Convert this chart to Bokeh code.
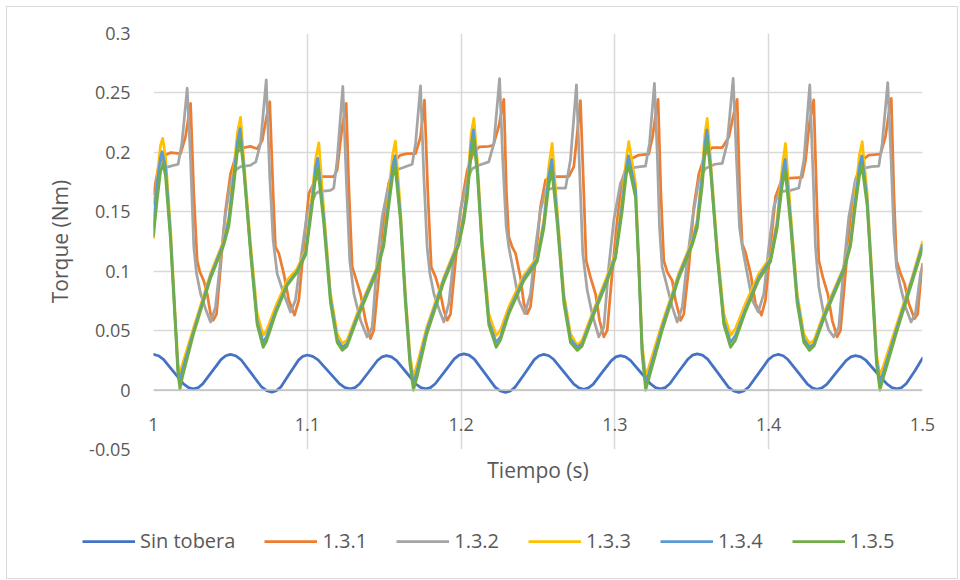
from bokeh.plotting import figure
from bokeh.layouts import column
from bokeh.models import (Range1d, FixedTicker, CustomJSTickFormatter, Legend, LegendItem, Span)
from bokeh.embed import file_html
from bokeh.resources import INLINE

# ---------------- data ----------------
x_ticks = [1.0, 1.1, 1.2, 1.3, 1.4, 1.5]
y_ticks = [-0.05, 0.0, 0.05, 0.1, 0.15, 0.2, 0.25, 0.3]

series_names = ["Sin tobera", "1.3.1", "1.3.2", "1.3.3", "1.3.4", "1.3.5"]
series_colors = ["#4472C4", "#ED7D31", "#A5A5A5", "#FFC000", "#5B9BD5", "#70AD47"]

sin_tobera = [
    (1.0000, 0.0300), (1.0032, 0.0289), (1.0065, 0.0258), (1.0130, 0.0155), (1.0195, 0.0052),
    (1.0228, 0.0021), (1.0260, 0.0010), (1.0292, 0.0021),
    (1.0320, 0.0052), (1.0380, 0.0155), (1.0440, 0.0258), (1.0470, 0.0289), (1.0500, 0.0300),
    (1.0533, 0.0289),
    (1.0568, 0.0257), (1.0635, 0.0142), (1.0703, 0.0026), (1.0736, -0.0005), (1.0770, -0.0017),
    (1.0799, -0.0005),
    (1.0828, 0.0026), (1.0885, 0.0140), (1.0943, 0.0252), (1.0971, 0.0284), (1.1000, 0.0295),
    (1.1035, 0.0284),
    (1.1070, 0.0254), (1.1140, 0.0153), (1.1210, 0.0052), (1.1245, 0.0021), (1.1280, 0.0010),
    (1.1310, 0.0021),
    (1.1339, 0.0051), (1.1398, 0.0150), (1.1456, 0.0249), (1.1486, 0.0279), (1.1515, 0.0290),
    (1.1547, 0.0279),
    (1.1579, 0.0249), (1.1643, 0.0150), (1.1706, 0.0051), (1.1738, 0.0021), (1.1770, 0.0010),
    (1.1801, 0.0021),
    (1.1832, 0.0053), (1.1894, 0.0158), (1.1956, 0.0262), (1.1987, 0.0294), (1.2018, 0.0305),
    (1.2052, 0.0294),
    (1.2086, 0.0260), (1.2154, 0.0143), (1.2221, 0.0025), (1.2255, -0.0008), (1.2289, -0.0020),
    (1.2320, -0.0008),
    (1.2351, 0.0025), (1.2414, 0.0140), (1.2476, 0.0256), (1.2507, 0.0289), (1.2538, 0.0300),
    (1.2571, 0.0289),
    (1.2603, 0.0257), (1.2668, 0.0154), (1.2733, 0.0050), (1.2766, 0.0018), (1.2798, 0.0007),
    (1.2828, 0.0018),
    (1.2858, 0.0048), (1.2917, 0.0149), (1.2977, 0.0248), (1.3006, 0.0279), (1.3036, 0.0290),
    (1.3069, 0.0279),
    (1.3101, 0.0249), (1.3167, 0.0150), (1.3232, 0.0052), (1.3264, 0.0021), (1.3297, 0.0010),
    (1.3327, 0.0021),
    (1.3357, 0.0053), (1.3416, 0.0158), (1.3476, 0.0262), (1.3505, 0.0294), (1.3535, 0.0305),
    (1.3569, 0.0294),
    (1.3603, 0.0260), (1.3671, 0.0143), (1.3738, 0.0025), (1.3772, -0.0008), (1.3806, -0.0020),
    (1.3838, -0.0008),
    (1.3870, 0.0026), (1.3934, 0.0140), (1.3998, 0.0256), (1.4030, 0.0289), (1.4062, 0.0300),
    (1.4094, 0.0289),
    (1.4125, 0.0257), (1.4189, 0.0154), (1.4252, 0.0050), (1.4283, 0.0018), (1.4315, 0.0007),
    (1.4346, 0.0018),
    (1.4378, 0.0048), (1.4440, 0.0149), (1.4503, 0.0248), (1.4534, 0.0279), (1.4565, 0.0290),
    (1.4599, 0.0279),
    (1.4633, 0.0249), (1.4700, 0.0150), (1.4768, 0.0052), (1.4801, 0.0021), (1.4835, 0.0010),
    (1.4865, 0.0021),
    (1.4895, 0.0055), (1.4950, 0.0160), (1.5000, 0.0268),
]

s131 = [
    (1.0000, 0.165), (1.0035, 0.190), (1.0078, 0.1977), (1.0110, 0.1997), (1.0176, 0.199),
    (1.0208, 0.213), (1.0241, 0.2412),
    (1.0262, 0.1654), (1.0284, 0.109), (1.0301, 0.0994), (1.0327, 0.092), (1.0349, 0.081),
    (1.0371, 0.064), (1.0388, 0.0587), (1.0410, 0.064), (1.0436, 0.1036), (1.0468, 0.151),
    (1.0501, 0.182), (1.0544, 0.2005), (1.0587, 0.204), (1.0631, 0.205), (1.0674, 0.203),
    (1.0707, 0.210), (1.0735, 0.230), (1.0756, 0.2426),
    (1.0778, 0.1654), (1.0793, 0.1205), (1.0815, 0.115), (1.0847, 0.098), (1.0880, 0.0756),
    (1.0917, 0.063), (1.0945, 0.0756), (1.0977, 0.1205), (1.1010, 0.1654), (1.1053, 0.1767),
    (1.1075, 0.1795), (1.1172, 0.1795), (1.1194, 0.185), (1.1227, 0.2216), (1.1253, 0.2412),
    (1.1270, 0.171), (1.1292, 0.1036), (1.1313, 0.095), (1.1346, 0.081), (1.1378, 0.0587),
    (1.1411, 0.0433), (1.1432, 0.0503), (1.1465, 0.095), (1.1497, 0.143), (1.1530, 0.174),
    (1.1573, 0.1935), (1.1606, 0.1977), (1.1650, 0.199), (1.1704, 0.199), (1.1736, 0.213),
    (1.1762, 0.244),
    (1.1784, 0.165), (1.1806, 0.1036), (1.1834, 0.095), (1.1866, 0.081), (1.1888, 0.067),
    (1.1910, 0.0587), (1.1931, 0.064), (1.1964, 0.109), (1.1996, 0.151), (1.2040, 0.185),
    (1.2080, 0.200), (1.2120, 0.2047), (1.2180, 0.205), (1.2210, 0.206), (1.2245, 0.222),
    (1.2278, 0.2446),
    (1.2295, 0.1654), (1.2310, 0.129), (1.2332, 0.1205), (1.2354, 0.115), (1.2386, 0.095),
    (1.2408, 0.0728), (1.2430, 0.0643), (1.2451, 0.070), (1.2484, 0.109), (1.2516, 0.154),
    (1.2549, 0.1767), (1.2592, 0.1795), (1.2700, 0.1795), (1.2733, 0.188), (1.2755, 0.216),
    (1.2776, 0.2435),
    (1.2798, 0.1654), (1.2813, 0.109), (1.2841, 0.095), (1.2874, 0.081), (1.2900, 0.0587),
    (1.2928, 0.0447), (1.2950, 0.0503), (1.2982, 0.098), (1.3015, 0.143), (1.3047, 0.1767),
    (1.3090, 0.1935), (1.3156, 0.1977), (1.3220, 0.1985), (1.3245, 0.213), (1.3265, 0.232),
    (1.3281, 0.2446),
    (1.3299, 0.1654), (1.3318, 0.109), (1.3340, 0.0994), (1.3373, 0.092), (1.3394, 0.0756),
    (1.3427, 0.0587), (1.3448, 0.064), (1.3481, 0.1036), (1.3513, 0.154), (1.3546, 0.182),
    (1.3589, 0.199), (1.3633, 0.204), (1.3698, 0.204), (1.3741, 0.213), (1.3772, 0.232),
    (1.3795, 0.2446),
    (1.3812, 0.1654), (1.3828, 0.123), (1.3849, 0.116), (1.3882, 0.098), (1.3914, 0.0728),
    (1.3953, 0.063), (1.3979, 0.0756), (1.4012, 0.1205), (1.4044, 0.1626), (1.4088, 0.178),
    (1.4218, 0.179), (1.4240, 0.1935), (1.4265, 0.225), (1.4293, 0.2441),
    (1.4311, 0.1654), (1.4326, 0.109), (1.4352, 0.095), (1.4384, 0.081), (1.4413, 0.0587),
    (1.4445, 0.0447), (1.4467, 0.0503), (1.4499, 0.098), (1.4532, 0.1457), (1.4564, 0.1767),
    (1.4608, 0.1935), (1.4651, 0.1977), (1.4727, 0.1985), (1.4759, 0.213), (1.4780, 0.232),
    (1.4797, 0.2454),
    (1.4814, 0.1654), (1.4831, 0.109), (1.4857, 0.098), (1.4883, 0.0896), (1.4911, 0.0728),
    (1.4948, 0.060), (1.4969, 0.064), (1.4990, 0.095), (1.5000, 0.106),
]

s132 = [
    (1.0000, 0.157), (1.0030, 0.178), (1.0050, 0.186), (1.0100, 0.188), (1.0160, 0.190),
    (1.0185, 0.208), (1.0219, 0.254),
    (1.0241, 0.1935), (1.0262, 0.1205), (1.0280, 0.098), (1.0306, 0.081), (1.0338, 0.0685),
    (1.0371, 0.0573), (1.0403, 0.070), (1.0436, 0.109), (1.0468, 0.1486), (1.0501, 0.174),
    (1.0533, 0.185), (1.0566, 0.188), (1.0630, 0.189), (1.0665, 0.192), (1.0696, 0.2075),
    (1.0733, 0.261),
    (1.0756, 0.179), (1.0778, 0.126), (1.0804, 0.098), (1.0847, 0.081), (1.0891, 0.0657),
    (1.0923, 0.0756), (1.0956, 0.109), (1.0999, 0.1486), (1.1030, 0.158), (1.1053, 0.165),
    (1.1075, 0.167), (1.1150, 0.168), (1.1172, 0.170), (1.1194, 0.1935), (1.1231, 0.2555),
    (1.1253, 0.1795), (1.1276, 0.109), (1.1303, 0.081), (1.1346, 0.0587), (1.1389, 0.0447),
    (1.1422, 0.053), (1.1454, 0.109), (1.1487, 0.1457), (1.1530, 0.174), (1.1573, 0.185),
    (1.1620, 0.187), (1.1682, 0.190), (1.1704, 0.2075), (1.1736, 0.256),
    (1.1758, 0.1795), (1.1779, 0.1205), (1.1797, 0.098), (1.1823, 0.081), (1.1855, 0.0685),
    (1.1888, 0.0573), (1.1920, 0.0727), (1.1953, 0.112), (1.1996, 0.151), (1.2040, 0.1767),
    (1.2070, 0.186), (1.2110, 0.189), (1.2180, 0.192), (1.2213, 0.2075), (1.2250, 0.262),
    (1.2271, 0.1935), (1.2293, 0.1377), (1.2310, 0.1205), (1.2343, 0.098), (1.2375, 0.0756),
    (1.2414, 0.0643), (1.2451, 0.081), (1.2484, 0.1205), (1.2516, 0.151), (1.2549, 0.168),
    (1.2600, 0.170), (1.2679, 0.170), (1.2711, 0.1935), (1.2750, 0.2567),
    (1.2772, 0.1795), (1.2791, 0.115), (1.2820, 0.084), (1.2852, 0.0643), (1.2895, 0.0447),
    (1.2928, 0.053), (1.2960, 0.1036), (1.2993, 0.143), (1.3036, 0.174), (1.3090, 0.1865),
    (1.3165, 0.188), (1.3199, 0.1885), (1.3225, 0.2075), (1.3257, 0.258),
    (1.3277, 0.1935), (1.3290, 0.137), (1.3307, 0.1036), (1.3340, 0.0868), (1.3373, 0.070),
    (1.3405, 0.0573), (1.3438, 0.070), (1.3470, 0.109), (1.3503, 0.143), (1.3546, 0.1767),
    (1.3589, 0.1865), (1.3650, 0.190), (1.3698, 0.1907), (1.3730, 0.2075), (1.3769, 0.2623),
    (1.3791, 0.1935), (1.3810, 0.137), (1.3828, 0.1205), (1.3860, 0.098), (1.3893, 0.0756),
    (1.3932, 0.0657), (1.3968, 0.081), (1.4001, 0.1205), (1.4033, 0.154), (1.4066, 0.1668),
    (1.4142, 0.168), (1.4196, 0.170), (1.4229, 0.1935), (1.4267, 0.2567),
    (1.4289, 0.1795), (1.4304, 0.1205), (1.4326, 0.0868), (1.4358, 0.0643), (1.4391, 0.0503),
    (1.4423, 0.0447), (1.4456, 0.053), (1.4488, 0.1036), (1.4521, 0.1457), (1.4564, 0.1767),
    (1.4608, 0.1865), (1.4670, 0.188), (1.4716, 0.1885), (1.4738, 0.2075), (1.4774, 0.2587),
    (1.4796, 0.1935), (1.4814, 0.1317), (1.4831, 0.1036), (1.4857, 0.0868), (1.4889, 0.070),
    (1.4926, 0.0573), (1.4954, 0.0643), (1.4987, 0.098), (1.5000, 0.104),
]

s133 = [
    (1.0000, 0.128), (1.0024, 0.1795), (1.0046, 0.206), (1.0060, 0.2118),
    (1.0078, 0.196), (1.0110, 0.137), (1.0143, 0.0587), (1.0158, 0.025), (1.0169, 0.0124),
    (1.0186, 0.0208), (1.0262, 0.053), (1.0371, 0.098), (1.0457, 0.126), (1.0490, 0.1457),
    (1.0522, 0.185), (1.0545, 0.216), (1.0566, 0.2295),
    (1.0587, 0.1935), (1.0631, 0.123), (1.0674, 0.0643), (1.0713, 0.046), (1.0735, 0.0503),
    (1.0793, 0.070), (1.0869, 0.0924), (1.0934, 0.1022), (1.0990, 0.118), (1.1032, 0.1654),
    (1.1055, 0.195), (1.1075, 0.208),
    (1.1107, 0.151), (1.1151, 0.081), (1.1194, 0.0475), (1.1227, 0.039), (1.1259, 0.042),
    (1.1324, 0.0643), (1.1389, 0.084), (1.1454, 0.1036), (1.1497, 0.126), (1.1530, 0.1654),
    (1.1555, 0.198), (1.1573, 0.2095),
    (1.1606, 0.151), (1.1638, 0.081), (1.1667, 0.0306), (1.1688, 0.011), (1.1710, 0.0194),
    (1.1777, 0.053), (1.1888, 0.095), (1.1985, 0.126), (1.2018, 0.1486), (1.2040, 0.171),
    (1.2065, 0.215), (1.2083, 0.2286),
    (1.2105, 0.1935), (1.2137, 0.126), (1.2180, 0.0643), (1.2228, 0.046), (1.2256, 0.0503),
    (1.2310, 0.070), (1.2408, 0.0966), (1.2495, 0.112), (1.2538, 0.143), (1.2570, 0.188),
    (1.2592, 0.2075),
    (1.2625, 0.151), (1.2668, 0.081), (1.2711, 0.0475), (1.2755, 0.0376), (1.2787, 0.042),
    (1.2852, 0.0643), (1.2939, 0.0924), (1.3004, 0.115), (1.3047, 0.160), (1.3073, 0.1935),
    (1.3090, 0.209),
    (1.3134, 0.174), (1.3156, 0.109), (1.3177, 0.039), (1.3199, 0.0124), (1.3221, 0.0194),
    (1.3307, 0.056), (1.3415, 0.098), (1.3503, 0.126), (1.3535, 0.143), (1.3568, 0.185),
    (1.3585, 0.215), (1.3600, 0.2286),
    (1.3622, 0.1935), (1.3665, 0.1205), (1.3708, 0.0643), (1.3752, 0.046), (1.3784, 0.0517),
    (1.3849, 0.0728), (1.3936, 0.098), (1.4012, 0.112), (1.4055, 0.143), (1.4088, 0.188),
    (1.4109, 0.2075),
    (1.4141, 0.151), (1.4185, 0.081), (1.4228, 0.0475), (1.4265, 0.039), (1.4295, 0.042),
    (1.4358, 0.0643), (1.4423, 0.084), (1.4488, 0.1036), (1.4532, 0.126), (1.4564, 0.1654),
    (1.4590, 0.198), (1.4608, 0.209),
    (1.4640, 0.1654), (1.4673, 0.095), (1.4701, 0.0306), (1.4722, 0.0124), (1.4744, 0.0194),
    (1.4835, 0.056), (1.4933, 0.095), (1.5000, 0.1247),
]

s134 = [
    (1.0000, 0.138), (1.0024, 0.175), (1.0046, 0.196), (1.0056, 0.2005),
    (1.0078, 0.188), (1.0110, 0.132), (1.0143, 0.055), (1.0158, 0.020), (1.0169, 0.0067),
    (1.0186, 0.016), (1.0262, 0.050), (1.0371, 0.096), (1.0457, 0.124), (1.0490, 0.143),
    (1.0522, 0.180), (1.0545, 0.208), (1.0563, 0.220),
    (1.0587, 0.188), (1.0631, 0.118), (1.0674, 0.058), (1.0713, 0.040), (1.0735, 0.045),
    (1.0793, 0.066), (1.0869, 0.089), (1.0934, 0.100), (1.0990, 0.116), (1.1032, 0.160),
    (1.1055, 0.188), (1.1068, 0.195),
    (1.1107, 0.145), (1.1151, 0.077), (1.1194, 0.043), (1.1227, 0.036), (1.1259, 0.039),
    (1.1324, 0.062), (1.1389, 0.082), (1.1454, 0.102), (1.1497, 0.124), (1.1530, 0.160),
    (1.1555, 0.188), (1.1570, 0.197),
    (1.1606, 0.146), (1.1638, 0.077), (1.1667, 0.026), (1.1688, 0.0053), (1.1710, 0.014),
    (1.1777, 0.050), (1.1888, 0.093), (1.1985, 0.124), (1.2018, 0.146), (1.2040, 0.168),
    (1.2065, 0.205), (1.2080, 0.219),
    (1.2105, 0.188), (1.2137, 0.121), (1.2180, 0.058), (1.2228, 0.040), (1.2256, 0.045),
    (1.2310, 0.066), (1.2408, 0.094), (1.2495, 0.110), (1.2538, 0.140), (1.2570, 0.180),
    (1.2590, 0.194),
    (1.2625, 0.145), (1.2668, 0.077), (1.2711, 0.043), (1.2755, 0.036), (1.2787, 0.039),
    (1.2852, 0.062), (1.2939, 0.090), (1.3004, 0.113), (1.3047, 0.156), (1.3073, 0.186),
    (1.3088, 0.197),
    (1.3134, 0.168), (1.3156, 0.104), (1.3177, 0.034), (1.3199, 0.0067), (1.3221, 0.014),
    (1.3307, 0.053), (1.3415, 0.096), (1.3503, 0.124), (1.3535, 0.140), (1.3568, 0.180),
    (1.3585, 0.207), (1.3598, 0.219),
    (1.3622, 0.188), (1.3665, 0.116), (1.3708, 0.058), (1.3752, 0.040), (1.3784, 0.046),
    (1.3849, 0.068), (1.3936, 0.095), (1.4012, 0.110), (1.4055, 0.140), (1.4088, 0.180),
    (1.4107, 0.194),
    (1.4141, 0.145), (1.4185, 0.077), (1.4228, 0.043), (1.4265, 0.036), (1.4295, 0.039),
    (1.4358, 0.062), (1.4423, 0.082), (1.4488, 0.102), (1.4532, 0.124), (1.4564, 0.160),
    (1.4590, 0.188), (1.4606, 0.197),
    (1.4640, 0.160), (1.4673, 0.090), (1.4701, 0.026), (1.4722, 0.0067), (1.4744, 0.014),
    (1.4835, 0.053), (1.4933, 0.093), (1.5000, 0.122),
]

s135 = [
    (1.0000, 0.130), (1.0024, 0.160), (1.0046, 0.184), (1.0062, 0.191),
    (1.0078, 0.180), (1.0110, 0.127), (1.0143, 0.052), (1.0158, 0.015), (1.0172, 0.001),
    (1.0190, 0.012), (1.0262, 0.048), (1.0371, 0.094), (1.0457, 0.122), (1.0490, 0.138),
    (1.0522, 0.172), (1.0545, 0.200), (1.0563, 0.2117),
    (1.0587, 0.185), (1.0631, 0.115), (1.0674, 0.055), (1.0713, 0.036), (1.0735, 0.041),
    (1.0793, 0.064), (1.0869, 0.088), (1.0934, 0.099), (1.0990, 0.114), (1.1032, 0.155),
    (1.1055, 0.180), (1.1068, 0.1865),
    (1.1107, 0.140), (1.1151, 0.073), (1.1194, 0.040), (1.1227, 0.0334), (1.1259, 0.037),
    (1.1324, 0.060), (1.1389, 0.080), (1.1454, 0.100), (1.1497, 0.121), (1.1530, 0.155),
    (1.1555, 0.180), (1.1570, 0.189),
    (1.1606, 0.142), (1.1638, 0.073), (1.1667, 0.022), (1.1690, 0.000), (1.1712, 0.010),
    (1.1777, 0.047), (1.1888, 0.091), (1.1985, 0.122), (1.2018, 0.142), (1.2040, 0.162),
    (1.2065, 0.198), (1.2080, 0.211),
    (1.2105, 0.183), (1.2137, 0.118), (1.2180, 0.055), (1.2228, 0.036), (1.2256, 0.042),
    (1.2310, 0.064), (1.2408, 0.092), (1.2495, 0.108), (1.2538, 0.136), (1.2570, 0.172),
    (1.2590, 0.185),
    (1.2625, 0.140), (1.2668, 0.073), (1.2711, 0.040), (1.2755, 0.0334), (1.2787, 0.037),
    (1.2852, 0.060), (1.2939, 0.088), (1.3004, 0.111), (1.3047, 0.150), (1.3073, 0.180),
    (1.3088, 0.190),
    (1.3134, 0.162), (1.3156, 0.100), (1.3177, 0.030), (1.3200, 0.000), (1.3222, 0.010),
    (1.3307, 0.050), (1.3415, 0.094), (1.3503, 0.122), (1.3535, 0.136), (1.3568, 0.172),
    (1.3585, 0.199), (1.3598, 0.211),
    (1.3622, 0.185), (1.3665, 0.113), (1.3708, 0.055), (1.3752, 0.036), (1.3784, 0.042),
    (1.3849, 0.066), (1.3936, 0.093), (1.4012, 0.108), (1.4055, 0.136), (1.4088, 0.172),
    (1.4107, 0.185),
    (1.4141, 0.140), (1.4185, 0.073), (1.4228, 0.040), (1.4265, 0.0334), (1.4295, 0.037),
    (1.4358, 0.060), (1.4423, 0.080), (1.4488, 0.100), (1.4532, 0.121), (1.4564, 0.155),
    (1.4590, 0.180), (1.4606, 0.189),
    (1.4640, 0.155), (1.4673, 0.086), (1.4701, 0.022), (1.4723, 0.000), (1.4745, 0.010),
    (1.4835, 0.050), (1.4933, 0.091), (1.5000, 0.119),
]

all_series = [sin_tobera, s131, s132, s133, s134, s135]

# ---------------- main figure ----------------
FONT = "Open Sans"
TXT = "#595959"
GRID = "#D9D9D9"
LW = 2.75

p = figure(width=950, height=503, output_backend="svg", toolbar_location=None,
           x_range=Range1d(1.0, 1.5), y_range=Range1d(-0.05, 0.3),
           min_border_left=146, min_border_right=35, min_border_top=26, min_border_bottom=61)
p.frame_align = False
p.outline_line_color = None
p.background_fill_color = "white"
p.border_fill_color = "white"

fmt = "return String(Math.round(tick * 100) / 100);"

# x axis: labels pulled up so that they sit just under the y = 0 line
xa = p.xaxis[0]
xa.ticker = FixedTicker(ticks=x_ticks)
xa.formatter = CustomJSTickFormatter(code=fmt)
xa.axis_line_color = None
xa.major_tick_line_color = None
xa.minor_tick_line_color = None
xa.major_tick_out = 0
xa.major_tick_in = 0
xa.major_label_standoff = -32
xa.major_label_text_font = FONT
xa.major_label_text_font_size = "18px"
xa.major_label_text_color = TXT
xa.axis_label = "Tiempo (s)"
xa.axis_label_text_font = FONT
xa.axis_label_text_font_size = "21px"
xa.axis_label_text_font_style = "normal"
xa.axis_label_text_color = TXT
xa.axis_label_standoff = 22

ya = p.yaxis[0]
ya.ticker = FixedTicker(ticks=y_ticks)
ya.formatter = CustomJSTickFormatter(code=fmt)
ya.axis_line_color = None
ya.major_tick_line_color = None
ya.minor_tick_line_color = None
ya.major_tick_out = 0
ya.major_tick_in = 0
ya.major_label_standoff = 23
ya.major_label_text_font = FONT
ya.major_label_text_font_size = "18px"
ya.major_label_text_color = TXT
ya.axis_label = "Torque (Nm)"
ya.axis_label_text_font = FONT
ya.axis_label_text_font_size = "21px"
ya.axis_label_text_font_style = "normal"
ya.axis_label_text_color = TXT
ya.axis_label_standoff = 12

p.xgrid.grid_line_color = GRID
p.xgrid.grid_line_width = 1.5
p.ygrid.grid_line_color = GRID
p.ygrid.grid_line_width = 1.5

p.add_layout(Span(location=0, dimension="width", line_color="#BFBFBF", line_width=1.5))

for name, col, data in zip(series_names, series_colors, all_series):
    xs = [d[0] for d in data]
    ys = [d[1] for d in data]
    p.line(xs, ys, line_color=col, line_width=LW, line_join="round", line_cap="round")

# ---------------- legend strip (same series, out of view; only the legend shows) ----------------
pl = figure(width=950, height=68, output_backend="svg", toolbar_location=None,
            x_range=Range1d(5, 6), y_range=Range1d(5, 6), x_axis_type=None, y_axis_type=None,
            min_border_left=0, min_border_right=0, min_border_top=0, min_border_bottom=0)
pl.frame_align = False
pl.outline_line_color = None
pl.grid.visible = False
pl.background_fill_color = "white"
pl.border_fill_color = "white"

items = []
for name, col, data in zip(series_names, series_colors, all_series):
    xs = [d[0] for d in data]
    ys = [d[1] for d in data]
    r = pl.line(xs, ys, line_color=col, line_width=LW)
    items.append(LegendItem(label=name, renderers=[r]))

legend = Legend(items=items, orientation="horizontal", location=(75, 24),
                border_line_color=None, background_fill_alpha=0, padding=0, margin=0,
                glyph_width=53, glyph_height=20, label_height=20, label_standoff=5, spacing=29,
                label_text_font=FONT, label_text_font_size="20px", label_text_color=TXT)
pl.add_layout(legend, "center")

layout = column(p, pl, spacing=0)
layout.margin = (7, 3, 0, 7)
layout.styles = {"outline": "1px solid #D9D9D9"}

open("out.html", "w").write(file_html(layout, INLINE))
